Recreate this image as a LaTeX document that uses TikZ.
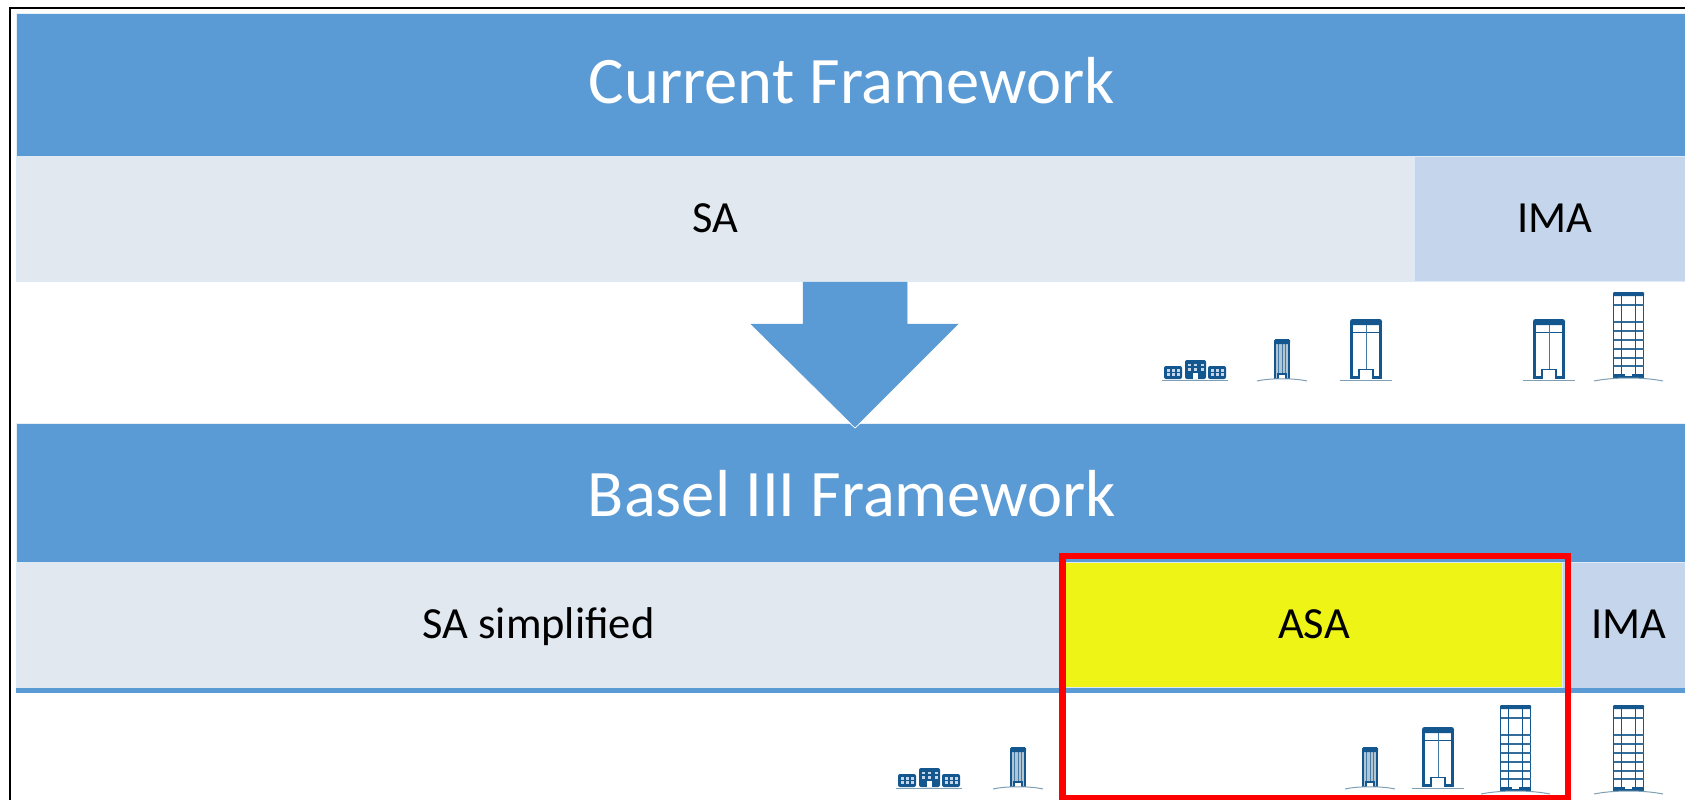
\documentclass[tikz,border=0pt]{standalone}
\usepackage{fontspec}
\setmainfont{Carlito}
\definecolor{headblue}{HTML}{5B9BD5}
\definecolor{salight}{HTML}{E1E8F0}
\definecolor{imalight}{HTML}{C5D6EC}
\definecolor{asayellow}{HTML}{EEF516}
\definecolor{iconblue}{HTML}{14578F}
\definecolor{icongrey}{HTML}{7F9FB5}
\tikzset{
    headbox/.style={rectangle, fill=headblue, draw=white!85!headblue, line width=0.6bp, inner sep=0pt},
    headtext/.style={text=white, font=\fontsize{66.5bp}{72bp}\selectfont},
    barbox/.style={rectangle, draw=white!80!headblue, line width=0.6bp, inner sep=0pt, text=black, text height=30bp, text depth=2.5bp, font=\fontsize{44.5bp}{50bp}\selectfont},
    ground/.style={icongrey, line width=1bp},
    houseicon/.pic={
        \fill[iconblue, rounded corners=2bp] (-31, -1) rectangle (-13, -14);
        \fill[iconblue, rounded corners=2bp] (-10, -1) rectangle (11, -20);
        \fill[iconblue, rounded corners=2bp] (13, -1) rectangle (31, -14);
        \foreach \wx in {-27, -22, -17, 17, 22, 27} {
            \fill[imalight] (\wx - 1.5, -11) rectangle (\wx + 1.5, -8.5);
            \fill[imalight] (\wx - 1.5, -7) rectangle (\wx + 1.5, -4);
        }
        \foreach \wx in {-6, 0.5, 7} {
            \fill[imalight] (\wx - 1.5, -16.5) rectangle (\wx + 1.5, -14);
            \fill[imalight] (\wx - 1.5, -12) rectangle (\wx + 1.5, -9);
        }
        \fill[white] (-2, -1) rectangle (3, -7);
        \draw[ground, line width=0.6bp] (-33, 0) -- (33, 0);
    },
    towericon/.pic={
        \fill[icongrey!60!white] (-7, 0) rectangle (7, -38);
        \foreach \lx in {-3.5, 0, 3.5}
            \draw[iconblue!80!white, line width=0.9bp] (\lx, -36) -- (\lx, -6);
        \draw[iconblue, line width=2bp] (-7, 0) -- (-7, -37) -- (7, -37) -- (7, 0);
        \fill[iconblue, rounded corners=1.5bp] (-8, -35) rectangle (8, -40);
        \fill[white] (-4, 0) rectangle (4, -5);
        \draw[iconblue, line width=1.2bp] (-7, -0.5) -- (-4, -0.5) -- (-4, -5) -- (4, -5) -- (4, -0.5) -- (7, -0.5);
        \draw[ground] (-25, 2) .. controls (-12, -1) and (12, -1) .. (25, 2);
    },
    midicon/.pic={
        \draw[iconblue, line width=0.9bp] (-15, -47) -- (15, -47);
        \draw[iconblue!80!white, line width=0.9bp] (0, -54) -- (0, -9);
        \draw[iconblue, line width=2.6bp] (-14.5, 0) -- (-14.5, -56) -- (14.5, -56) -- (14.5, 0);
        \fill[iconblue, rounded corners=2.5bp] (-16, -54) rectangle (16, -60);
        \fill[iconblue] (-16, 0) rectangle (-8, -3);
        \fill[iconblue] (8, 0) rectangle (16, -3);
        \fill[white] (-6, 0) rectangle (6, -9);
        \draw[iconblue, line width=1.4bp] (-7, 0) -- (-7, -9.5) -- (7, -9.5) -- (7, 0);
        \draw[ground] (-26, 1) -- (26, 1);
    },
    highicon/.pic={
        \draw[iconblue, line width=1.2bp] (-15, 0) rectangle (15, -83);
        \fill[iconblue, rounded corners=1bp] (-15.5, -81) rectangle (15.5, -85);
        \foreach \ly in {-72, -55, -46, -37, -28, -19, -11}
            \draw[iconblue!70!icongrey, line width=1.1bp] (-15, \ly) -- (15, \ly);
        \foreach \lx in {-7, 7}
            \draw[iconblue, line width=1.1bp] (\lx, -83) -- (\lx, 0);
        \fill[iconblue] (-15.5, 0) rectangle (-3.5, -3.5);
        \fill[iconblue] (3.5, 0) rectangle (15.5, -3.5);
        \draw[ground] (-34.5, 4) .. controls (-15, 0) and (15, 0) .. (34.5, 4);
    }
}

\begin{document}
\begin{tikzpicture}[x=1bp, y=-1bp]
    \useasboundingbox (0, 0) rectangle (1685, 800);
    \clip (0, 0) rectangle (1685, 800);

    % outer frame
    \draw[black, line width=2bp] (10, 800) -- (10, 8) -- (1685, 8);

    % current framework
    \node[headbox, minimum width=1674bp, minimum height=143bp] (currenthead) at (853, 84.5) {};
    \node[headtext] (currenttext) at (852, 81) {Current Framework};
    \node[barbox, fill=salight, minimum width=1398bp, minimum height=125bp] (sabar) at (715, 219) {SA};
    \node[barbox, fill=imalight, minimum width=282bp, minimum height=125bp] (imabar) at (1555, 219) {IMA};

    % basel III framework
    \node[headbox, minimum width=1674bp, minimum height=139bp] (baselhead) at (853, 492.5) {};
    \node[headtext] (baseltext) at (852, 494) {Basel III Framework};
    \node[barbox, fill=salight, minimum width=1045bp, minimum height=126bp] (simplebar) at (538.5, 625) {SA simplified};
    \node[barbox, fill=imalight, minimum width=134bp, minimum height=126bp] (imabartwo) at (1629, 625) {IMA};
    \fill[headblue] (16, 688) rectangle (1685, 692.5);
    \node[barbox, fill=asayellow, minimum width=497bp, minimum height=125bp] (asabar) at (1314, 625) {ASA};

    % arrow between the frameworks
    \draw[headblue, fill=headblue, line width=0.5bp] (803, 282) -- (907, 282) -- (907, 324) -- (958, 324)
        -- (855, 427) -- (751, 324) -- (803, 324) -- cycle;
    \draw[white, line width=0.7bp] (850, 423.5) -- (855, 428) -- (860, 423.5);

    % buildings of the first row
    \pic at (1195, 380) {houseicon};
    \pic at (1282, 379) {towericon};
    \foreach \px in {1366, 1549}
        \pic at (\px, 379) {midicon};
    \pic at (1628.5, 377) {highicon};

    % buildings of the second row
    \pic at (929, 788) {houseicon};
    \foreach \px in {1018, 1370}
        \pic at (\px, 787) {towericon};
    \pic at (1438, 787) {midicon};
    \foreach \px in {1515.5, 1628.5}
        \pic at (\px, 790) {highicon};

    % red box round the ASA part
    \draw[red, line width=6.5bp] (1062.5, 556) rectangle (1568, 798);
\end{tikzpicture}
\end{document}
